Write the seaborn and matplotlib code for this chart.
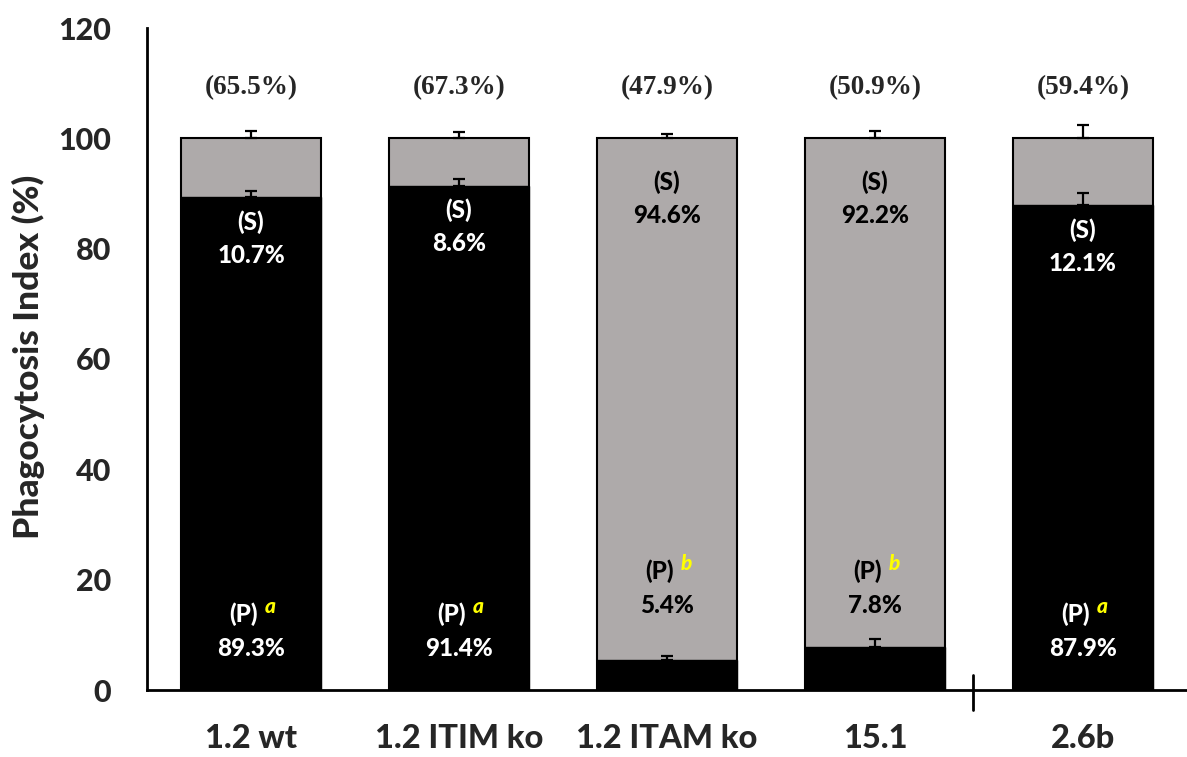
import matplotlib
matplotlib.use("Agg")
import matplotlib.pyplot as plt
import matplotlib.transforms as mtransforms
import seaborn as sns
import pandas as pd
import numpy as np

# ---- data ----
categories = ["1.2 wt", "1.2 ITIM ko", "1.2 ITAM ko", "15.1", "2.6b"]
p_values = [89.3, 91.4, 5.4, 7.8, 87.9]          # (P) share, black
s_values = [10.7, 8.6, 94.6, 92.2, 12.1]         # (S) share, grey
total_values = [100, 100, 100, 100, 100]
p_err = [1.1, 1.2, 0.7, 1.4, 2.2]
total_err = [1.4, 1.2, 0.8, 1.3, 2.4]
overall_pct = ["(65.5%)", "(67.3%)", "(47.9%)", "(50.9%)", "(59.4%)"]
sig_letters = ["a", "a", "b", "b", "a"]
yticks = [0, 20, 40, 60, 80, 100, 120]

df = pd.DataFrame({"group": categories, "P": p_values, "S": s_values, "total": total_values})

sns.set_style("white")
plt.rcParams["font.family"] = ["Lato", "DejaVu Sans"]
W = 900

fig = plt.figure(figsize=(11.87, 7.57), dpi=100)
ax = fig.add_axes([147 / 1187, 1 - 690 / 757, 1040 / 1187, 662 / 757])

GREY = "#AEAAAA"
BW = 0.67
sns.barplot(data=df, x="group", y="total", order=categories, color=GREY,
            edgecolor="black", linewidth=1.5, width=BW, ax=ax, saturation=1)
sns.barplot(data=df, x="group", y="P", order=categories, color="black",
            edgecolor="black", linewidth=1.0, width=BW, ax=ax, saturation=1)

xpos = np.arange(len(categories))
ax.errorbar(xpos, total_values, yerr=[np.zeros(len(xpos)), total_err], fmt="none",
            ecolor="black", elinewidth=1.6, capsize=4.5, capthick=1.6, zorder=5)
ax.errorbar(xpos, p_values, yerr=[np.zeros(len(xpos)), p_err], fmt="none",
            ecolor="black", elinewidth=1.6, capsize=4.5, capthick=1.6, zorder=5)

ax.set_xlim(-0.5, 4.5)
ax.set_ylim(0, 120)
ax.set_yticks(yticks)
ax.set_yticklabels([str(t) for t in yticks], fontweight=W, fontsize=22)
ax.set_xticks(xpos)
ax.set_xticklabels(categories, fontweight=W, fontsize=23.5)
ax.set_xticks([4.5], minor=True)
ax.tick_params(axis="x", which="both", direction="out", length=6.5, width=2, pad=18, color="black")
ax.tick_params(axis="y", direction="out", length=7, width=2, pad=19, color="black")
ax.set_xlabel("")
ax.set_ylabel("")
for side in ["top", "right"]:
    ax.spines[side].set_visible(False)
for side in ["left", "bottom"]:
    ax.spines[side].set_linewidth(2)
    ax.spines[side].set_color("black")

fig.text(28 / 1187, 1 - 357 / 757, "Phagocytosis Index (%)", rotation=90,
         ha="center", va="center", fontsize=25.5, fontweight=W)

# separator tick between 15.1 and 2.6b
trans = mtransforms.blended_transform_factory(ax.transData, ax.transAxes)
ax.plot([3.47, 3.47], [-0.030, 0.023], transform=trans, color="black", lw=2, clip_on=False)

# overall percentages on top
for i, t in enumerate(overall_pct):
    ax.text(i, 109.2, t, ha="center", va="center", family="Liberation Serif",
            fontweight="bold", fontsize=19.5)

# inner labels
FS = 17.5
for i in range(len(categories)):
    big_p = p_values[i] > 50
    if big_p:
        s_y = p_values[i] - 4.5
        p_y = 13.8
        col = "white"
    else:
        s_y = 92.0
        p_y = 21.6
        col = "black"
    ax.text(i, s_y, "(S)", ha="center", va="center", color="white" if big_p else "black",
            fontsize=FS, fontweight=W)
    ax.text(i, s_y - 6.0, f"{s_values[i]}%", ha="center", va="center",
            color="white" if big_p else "black", fontsize=FS, fontweight=W)
    ax.annotate("(P)", xy=(i, p_y), xytext=(5, 0), textcoords="offset points",
                ha="right", va="center", color=col, fontsize=FS, fontweight=W)
    ax.annotate(sig_letters[i], xy=(i, p_y), xytext=(10, 5), textcoords="offset points",
                ha="left", va="center", color="#FFFF00", fontsize=15,
                fontweight=W, fontstyle="italic")
    ax.text(i, p_y - 6.2, f"{p_values[i]}%", ha="center", va="center", color=col,
            fontsize=FS, fontweight=W)

fig.savefig("out.png", dpi=100)
